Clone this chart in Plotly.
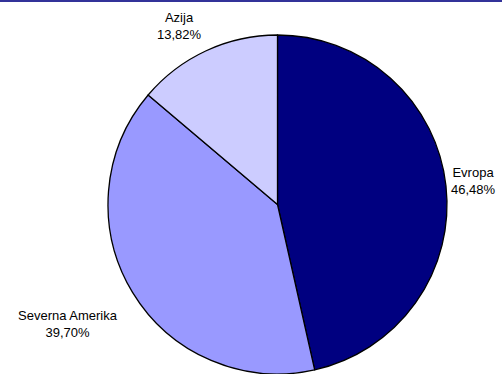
import math
import plotly.graph_objects as go

labels = ["Evropa", "Severna Amerika", "Azija"]
values = [46.48, 39.70, 13.82]
colors = ["#000080", "#9999FF", "#CCCCFF"]

W, H = 502, 374
# pie geometry (pixels)
cx, cy, r = 277.5, 204.5, 169.5
dom_x = [(cx - 180) / W, (cx + 180) / W]
dom_y = [0, 1 - (cy - r) / H]

fig = go.Figure(go.Pie(
    labels=labels, values=values, sort=False, direction="clockwise", rotation=0,
    marker=dict(colors=colors, line=dict(color="#000000", width=1.3)),
    textinfo="none", hoverinfo="label+percent",
    domain=dict(x=dom_x, y=dom_y), showlegend=False,
))

# small layout nudges (pixels) for label boxes
nudges = {"Evropa": (0, 4), "Severna Amerika": (-2, -7), "Azija": (3, -4)}

total = sum(values)
cum = 0.0
annotations = []
for lab, v in zip(labels, values):
    mid = (cum + v / 2) / total * 2 * math.pi
    cum += v
    s, c = math.sin(mid), math.cos(mid)
    xa = "left" if s > 0.3 else ("right" if s < -0.3 else "center")
    ya = "bottom" if c > 0.3 else ("top" if c < -0.3 else "middle")
    d = 3 if ya == "middle" else 12
    px = cx + s * (r + d)
    py = cy - c * (r + d)
    txt = f"{lab}<br>{v:.2f}%".replace(".", ",")
    nx, ny = nudges.get(lab, (0, 0))
    annotations.append(dict(
        x=px / W, y=1 - py / H, xref="paper", yref="paper",
        xanchor=xa, yanchor=ya, text=txt, showarrow=False, align="center",
        xshift=nx, yshift=ny,
        font=dict(family="Liberation Sans, Arial, sans-serif", size=13, color="#000000"),
    ))

fig.update_layout(
    width=W, height=H, margin=dict(l=0, r=0, t=0, b=0),
    paper_bgcolor="#FFFFFF", plot_bgcolor="#FFFFFF",
    annotations=annotations,
    shapes=[dict(type="line", xref="paper", yref="paper", x0=0, x1=1,
                 y0=1 - 1 / H, y1=1 - 1 / H, line=dict(color="#333399", width=2))],
)

fig.write_html("out.html", config={"displayModeBar": False},
               post_script="document.body.style.margin='0';document.body.style.overflow='hidden';")
